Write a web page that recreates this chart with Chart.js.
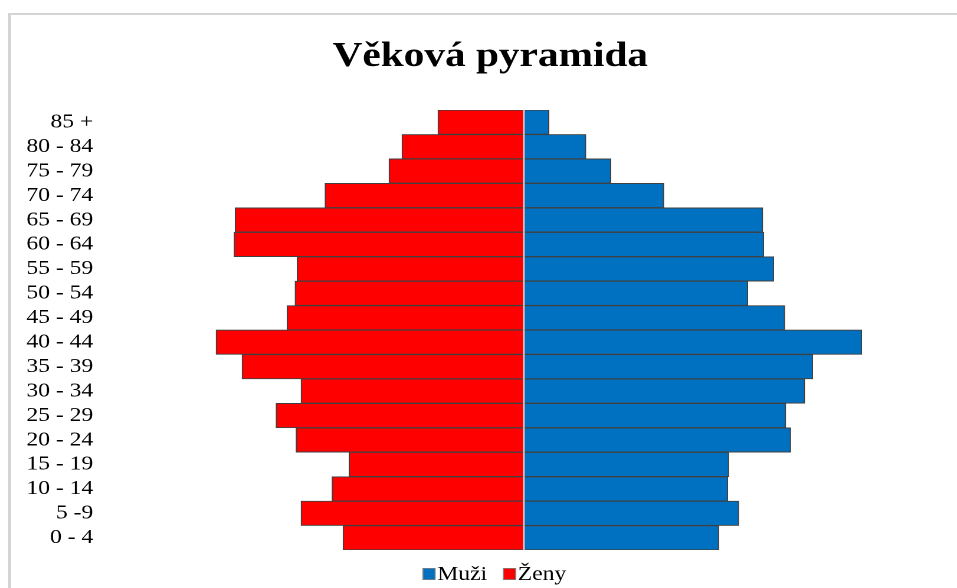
<!DOCTYPE html>
<html><head><meta charset="utf-8">
<script src="https://cdn.jsdelivr.net/npm/chart.js@4.4.1/dist/chart.umd.min.js"></script>
<style>
html,body{margin:0;padding:0;background:#fff;overflow:hidden;width:957px;height:588px;}
#frame{position:absolute;left:8px;top:13px;width:1000px;height:700px;border-left:3px solid #d4d4d4;border-top:2px solid #d4d4d4;}
#c{position:absolute;left:0;top:0;transform:scaleX(1.18);transform-origin:0 0;}
</style></head><body>
<div id="frame"></div>
<canvas id="c" width="831" height="588"></canvas>
<script>
const chartTitle = 'Věková pyramida';
const ageGroups = ['85 +','80 - 84','75 - 79','70 - 74','65 - 69','60 - 64','55 - 59','50 - 54','45 - 49','40 - 44','35 - 39','30 - 34','25 - 29','20 - 24','15 - 19','10 - 14','5 -9','0 - 4'];
const maleValues   = [25, 62, 87, 140, 239, 240, 250, 224, 261, 338, 289, 281, 262, 267, 205, 204, 215, 195];
const femaleValues = [86, 122, 135, 199, 289, 290, 227, 229, 237, 308, 282, 223, 248, 228, 175, 192, 223, 181];
const seriesNames = ['Muži', 'Ženy'];
const seriesColors = ['#0070C0', '#FF0000'];

const SERIF = '"Liberation Serif", "Times New Roman", serif';

const centerLine = {
  id: 'centerLine',
  afterDatasetsDraw(chart) {
    const ctx = chart.ctx, x = chart.scales.x.getPixelForValue(0), a = chart.chartArea;
    ctx.save();
    ctx.strokeStyle = '#f3d6d6';
    ctx.lineWidth = 1.2;
    ctx.beginPath(); ctx.moveTo(x, a.top); ctx.lineTo(x, a.bottom); ctx.stroke();
    ctx.restore();
  }
};

const bottomLegend = {
  id: 'bottomLegend',
  afterDraw(chart) {
    const ctx = chart.ctx;
    ctx.save();
    ctx.font = '20px ' + SERIF;
    const boxW = 11, boxH = 12, gap = 1.5, itemGap = 13.5;
    const widths = seriesNames.map(n => ctx.measureText(n).width);
    let total = 0;
    widths.forEach((w, i) => { total += boxW + gap + w + (i < widths.length - 1 ? itemGap : 0); });
    let x = 419 - total / 2;
    const baseY = 580;
    seriesNames.forEach((n, i) => {
      ctx.fillStyle = seriesColors[i];
      ctx.fillRect(x, baseY - boxH, boxW, boxH);
      ctx.strokeStyle = '#7f7f7f'; ctx.lineWidth = 0.8;
      ctx.strokeRect(x + 0.4, baseY - boxH + 0.4, boxW - 0.8, boxH - 0.8);
      ctx.fillStyle = '#000';
      ctx.textBaseline = 'alphabetic';
      ctx.textAlign = 'left';
      ctx.fillText(n, x + boxW + gap, baseY);
      x += boxW + gap + widths[i] + itemGap;
    });
    ctx.restore();
  }
};

const common = { borderColor: '#404040', borderWidth: 1, borderSkipped: false, barPercentage: 1, categoryPercentage: 1 };

new Chart(document.getElementById('c'), {
  type: 'bar',
  data: {
    labels: ageGroups,
    datasets: [
      Object.assign({ label: seriesNames[0], data: maleValues, backgroundColor: seriesColors[0] }, common),
      Object.assign({ label: seriesNames[1], data: femaleValues.map(v => -v), backgroundColor: seriesColors[1] }, common)
    ]
  },
  options: {
    indexAxis: 'y',
    responsive: false,
    animation: false,
    devicePixelRatio: 2,
    layout: { padding: { left: 0, right: 0, top: 0, bottom: 38 } },
    plugins: {
      title: { display: true, text: chartTitle, color: '#000', font: { family: SERIF, size: 35, weight: 'bold', lineHeight: 1.2 }, padding: { top: 36, bottom: 32 } },
      legend: { display: false },
      tooltip: { enabled: false }
    },
    scales: {
      x: { stacked: true, min: -418, max: 457, display: false },
      y: {
        stacked: true,
        grid: { display: false, drawTicks: false },
        border: { display: false },
        ticks: { color: '#000', font: { family: SERIF, size: 20 }, padding: 11, autoSkip: false },
        afterFit(a) { a.width = 90; }
      }
    }
  },
  plugins: [centerLine, bottomLegend]
});
</script>
</body></html>
